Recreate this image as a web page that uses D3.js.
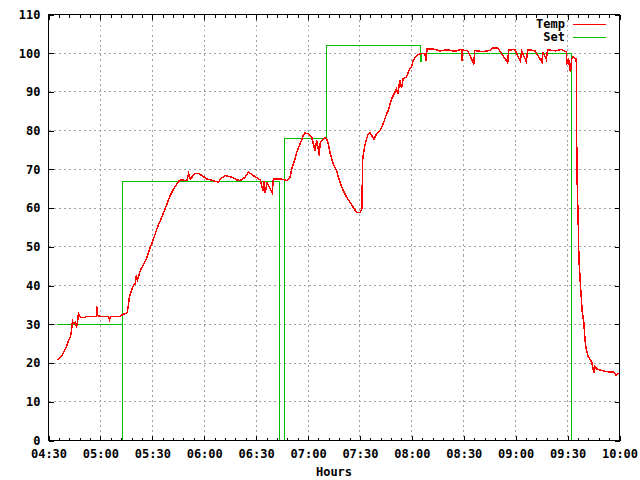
<!DOCTYPE html>
<html>
<head>
<meta charset="utf-8">
<script src="https://cdn.jsdelivr.net/npm/d3@7"></script>
<style>
body { margin: 0; background: #fff; }
text { font-family: "DejaVu Sans Mono", monospace; font-weight: bold; font-size: 12px; fill: #000; }
</style>
</head>
<body>
<div id="chart"></div>
<script>

var tempTimes = [
  "04:35:12","04:36:55","04:38:05","04:39:14","04:40:23","04:40:58","04:41:32","04:42:07","04:42:42","04:43:16",
  "04:43:51","04:44:25","04:45:35","04:46:09","04:46:44","04:47:18","04:48:28","04:50:46","04:51:55","04:57:42",
  "04:57:52","04:58:16","05:00:00","05:04:37","05:05:12","05:05:46","05:11:32","05:12:41","05:14:25","05:15:35",
  "05:16:44","05:17:53","05:19:02","05:20:12","05:20:46","05:21:21","05:23:05","05:24:48","05:26:56","05:28:51",
  "05:30:45","05:32:42","05:34:37","05:36:32","05:38:28","05:40:23","05:42:17","05:45:10","05:46:09","05:50:00",
  "05:50:56","05:51:55","05:54:48","05:56:43","05:58:40","06:01:33","06:04:26","06:08:14","06:09:14","06:12:07",
  "06:15:58","06:18:52","06:20:46","06:23:39","06:25:34","06:28:27","06:32:18","06:34:02","06:34:37","06:35:12",
  "06:36:21","06:39:14","06:40:00","06:41:56","06:43:51","06:47:42","06:49:37","06:50:35","06:51:55","06:53:28",
  "06:55:23","06:57:18","06:58:16","07:00:00","07:01:09","07:02:07","07:04:02","07:05:00","07:06:32","07:06:55",
  "07:07:53","07:09:48","07:10:46","07:11:44","07:12:41","07:13:39","07:14:37","07:16:32","07:17:30","07:18:28",
  "07:20:23","07:22:18","07:24:14","07:26:09","07:28:05","07:30:00","07:31:09","07:31:32","07:32:18","07:33:16",
  "07:33:51","07:34:49","07:35:46","07:36:44","07:38:05","07:39:37","07:41:32","07:43:27","07:45:23","07:46:20",
  "07:48:16","07:50:12","07:51:09","07:51:55","07:53:05","07:54:02","07:55:00","07:56:55","07:57:53","07:58:51",
  "07:59:48","08:00:46","08:02:42","08:04:37","08:07:30","08:08:05","08:08:49","08:12:18","08:16:09","08:20:12",
  "08:24:48","08:28:40","08:28:50","08:29:25","08:32:18","08:35:46","08:36:21","08:40:58","08:45:00","08:46:44",
  "08:49:37","08:50:46","08:55:23","08:55:58","08:59:25","09:02:42","09:03:28","09:06:09","09:06:55","09:10:58",
  "09:15:12","09:15:35","09:17:42","09:18:28","09:23:05","09:26:32","09:29:16","09:29:25","09:30:35","09:31:09",
  "09:31:44","09:32:18","09:33:05","09:35:00","09:35:23","09:36:09","09:36:32","09:37:20","09:38:29","09:39:25",
  "09:39:48","09:40:23","09:41:42","09:42:41","09:44:00","09:45:09","09:45:33","09:46:54","09:49:26","09:52:18",
  "09:57:07","09:58:05","09:59:25"
];
var tempValues = [
  20.9,21.4,22.2,23.2,24.3,25.0,25.8,26.3,26.9,28.4,
  30.8,30.2,30.5,29.5,30.2,32.8,31.8,31.8,32.0,32.0,
  34.6,32.3,32.0,32.0,31.2,32.0,32.0,32.5,32.8,33.1,
  36.9,38.7,40.0,40.5,42.6,41.5,43.9,45.4,47.3,49.9,
  52.1,54.7,56.8,58.9,61.1,63.3,65.0,66.9,67.3,67.1,
  68.9,67.5,69.0,69.0,68.4,67.5,67.2,66.7,67.5,68.4,
  68.0,67.3,67.1,68.0,69.3,68.4,67.3,64.5,67.0,64.0,
  66.5,64.1,67.6,67.5,67.6,67.1,68.0,70.1,71.9,74.4,
  76.6,78.8,79.4,79.2,78.8,78.3,74.9,77.5,73.6,76.6,
  77.5,78.2,77.9,76.6,74.4,72.7,71.4,69.7,68.0,66.7,
  64.5,62.8,61.5,60.2,58.9,58.8,59.8,72.3,74.9,77.0,
  77.9,79.2,79.6,78.8,77.8,79.2,80.0,81.8,84.3,85.2,
  88.2,89.9,90.8,89.5,93.0,91.0,93.4,93.9,95.1,96.0,
  96.4,98.1,99.4,99.8,100.0,98.1,101.1,101.1,100.6,100.9,
  100.5,101.0,98.1,100.8,100.6,97.3,100.7,100.4,100.7,101.4,
  101.4,100.6,97.6,100.8,101.0,98.0,100.6,97.8,100.9,100.7,
  97.7,100.4,98.4,100.9,100.6,101.0,100.3,97.0,98.8,96.0,
  95.1,98.5,99.1,98.5,69.7,56.0,47.0,40.9,33.1,30.5,
  27.5,24.5,21.9,21.1,20.2,17.4,19.1,18.5,18.1,17.8,
  17.6,16.8,17.4
];

// setpoint steps
var setTimes = [
  "04:35:12","05:12:40","05:12:40","05:13:00","05:13:00","06:43:26","06:43:26","06:46:21","06:46:21","07:10:33",
  "07:10:33","08:05:01","08:05:01","08:05:21","08:05:21","09:32:30","09:32:30"
];
var setValues = [
  30,30,0,0,67,67,0,0,78,78,
  102,102,97.9,97.9,100,100,0
];

var seriesNames = ["Temp", "Set"];
var seriesColors = ["#ff0000", "#00c000"];
var yTicks = [0, 10, 20, 30, 40, 50, 60, 70, 80, 90, 100, 110];
var xTickLabels = ["04:30","05:00","05:30","06:00","06:30","07:00","07:30","08:00","08:30","09:00","09:30","10:00"];
var xLabel = "Hours";

var width = 640, height = 480;
var plotL = 48.5, plotR = 619.5, plotT = 14.5, plotB = 440.5;

var svg = d3.select("#chart")
    .append("svg")
    .attr("width", width)
    .attr("height", height);

var parse = d3.timeParse("%H:%M:%S");
var parseTick = d3.timeParse("%H:%M");
var xTicks = xTickLabels.map(parseTick);

var x = d3.scaleTime()
    .domain([xTicks[0], xTicks[xTicks.length - 1]])
    .range([plotL, plotR]);
var y = d3.scaleLinear()
    .domain([0, 110])
    .range([plotB, plotT]);

// grid
var grid = svg.append("g")
    .attr("stroke", "#a0a0a0")
    .attr("stroke-dasharray", "2,3")
    .attr("shape-rendering", "crispEdges");
grid.selectAll(".gx")
    .data(xTicks.slice(1, -1))
  .enter().append("line")
    .attr("x1", function(d) { return x(d); })
    .attr("x2", function(d) { return x(d); })
    .attr("y1", plotT)
    .attr("y2", plotB);
grid.selectAll(".gy")
    .data(yTicks.slice(1, -1))
  .enter().append("line")
    .attr("y1", function(d) { return y(d); })
    .attr("y2", function(d) { return y(d); })
    .attr("x1", plotL)
    .attr("x2", plotR);

// series
var line = d3.line()
    .x(function(d) { return x(d[0]); })
    .y(function(d) { return y(d[1]); });

var tempData = tempTimes.map(function(t, i) { return [parse(t), tempValues[i]]; });
var setData = setTimes.map(function(t, i) { return [parse(t), setValues[i]]; });

svg.append("path")
    .datum(setData)
    .attr("fill", "none")
    .attr("stroke", seriesColors[1])
    .attr("stroke-width", 1)
    .attr("shape-rendering", "crispEdges")
    .attr("d", line);

svg.append("path")
    .datum(tempData)
    .attr("fill", "none")
    .attr("stroke", seriesColors[0])
    .attr("stroke-width", 1.5)
    .attr("shape-rendering", "crispEdges")
    .attr("d", line);

// axes, ticks inward
var minor = x.ticks(d3.timeMinute.every(6));

svg.append("g")
    .attr("transform", "translate(0," + plotB + ")")
    .call(d3.axisBottom(x).tickValues(minor).tickFormat("").tickSizeInner(-3).tickSizeOuter(0))
    .call(function(g) { g.select(".domain").remove(); });
svg.append("g")
    .attr("transform", "translate(0," + plotT + ")")
    .call(d3.axisTop(x).tickValues(minor).tickFormat("").tickSizeInner(-3).tickSizeOuter(0))
    .call(function(g) { g.select(".domain").remove(); });

svg.append("g")
    .attr("class", "xaxis")
    .attr("transform", "translate(0," + plotB + ")")
    .call(d3.axisBottom(x).tickValues(xTicks).tickFormat(d3.timeFormat("%H:%M")).tickSizeInner(-5).tickSizeOuter(0).tickPadding(9))
    .call(function(g) { g.select(".domain").remove(); });
svg.append("g")
    .attr("transform", "translate(0," + plotT + ")")
    .call(d3.axisTop(x).tickValues(xTicks).tickFormat("").tickSizeInner(-5).tickSizeOuter(0))
    .call(function(g) { g.select(".domain").remove(); });

svg.append("g")
    .attr("class", "yaxis")
    .attr("transform", "translate(" + plotL + ",0)")
    .call(d3.axisLeft(y).tickValues(yTicks).tickSizeInner(-5).tickSizeOuter(0).tickPadding(8))
    .call(function(g) { g.select(".domain").remove(); });
svg.append("g")
    .attr("transform", "translate(" + plotR + ",0)")
    .call(d3.axisRight(y).tickValues(yTicks).tickFormat("").tickSizeInner(-5).tickSizeOuter(0))
    .call(function(g) { g.select(".domain").remove(); });

svg.selectAll(".tick line").attr("stroke", "#000").attr("shape-rendering", "crispEdges");
svg.selectAll(".tick text")
    .attr("fill", "#000")
    .style("font-family", "'DejaVu Sans Mono', monospace")
    .style("font-weight", "bold")
    .style("font-size", "12px");

// border
svg.append("rect")
    .attr("x", plotL)
    .attr("y", plotT)
    .attr("width", plotR - plotL)
    .attr("height", plotB - plotT)
    .attr("fill", "none")
    .attr("stroke", "#000")
    .attr("shape-rendering", "crispEdges");

svg.append("text")
    .attr("x", (plotL + plotR) / 2)
    .attr("y", 472)
    .attr("dy", "0.35em")
    .attr("text-anchor", "middle")
    .text(xLabel);

// legend
var legend = svg.selectAll(".legend")
    .data(seriesNames)
  .enter().append("g")
    .attr("class", "legend")
    .attr("transform", function(d, i) { return "translate(0," + (24 + i * 12.5) + ")"; });
legend.append("text")
    .attr("x", 565)
    .attr("dy", "0.35em")
    .attr("text-anchor", "end")
    .text(function(d) { return d; });
legend.append("line")
    .attr("x1", 573)
    .attr("x2", 606)
    .attr("y1", 0.5)
    .attr("y2", 0.5)
    .attr("stroke", function(d, i) { return seriesColors[i]; })
    .attr("shape-rendering", "crispEdges");

</script>
</body>
</html>
